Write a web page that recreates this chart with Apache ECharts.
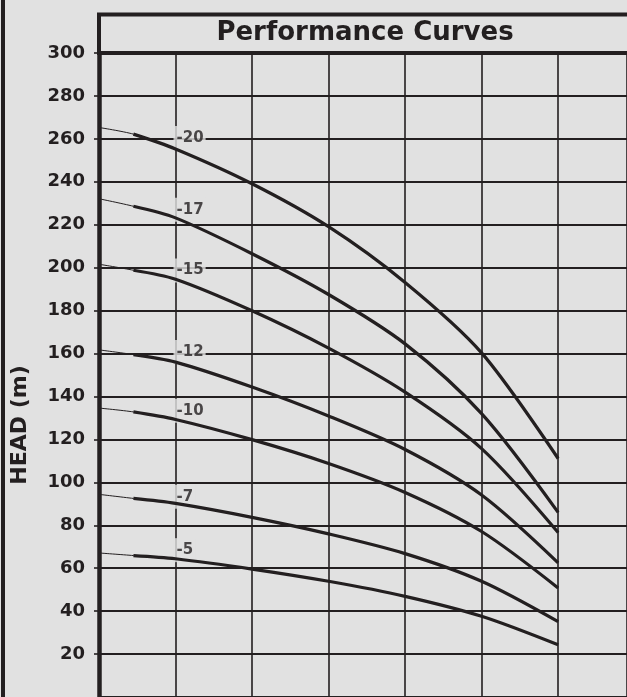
<!DOCTYPE html>
<html>
<head>
<meta charset="utf-8">
<script src="https://cdn.jsdelivr.net/npm/echarts@6/dist/echarts.min.js"></script>
<style>
html, body { margin: 0; padding: 0; background: #e1e1e1; }
#main { width: 627px; height: 697px; }
</style>
</head>
<body>
<div id="main"></div>
<script>
// flow positions (grid columns) where the curves were read
var flow = [0, 0.45, 1, 2, 3, 4, 5, 6];
var curveNames = ['-20', '-17', '-15', '-12', '-10', '-7', '-5'];
// head (m) of each model at the flow positions above
var head20 = [265.3, 262.2, 255.3, 239.1, 219.1, 193.1, 160.3, 111.1];
var head17 = [232.1, 228.6, 223.2, 206.5, 187.5, 164.5, 132.0, 86.0];
var head15 = [201.6, 198.8, 194.6, 179.9, 162.5, 142.0, 115.7, 76.6];
var head12 = [161.7, 159.5, 156.0, 144.4, 130.9, 115.3, 94.1, 62.5];
var head10 = [134.6, 132.8, 129.3, 119.9, 108.8, 95.3, 77.1, 50.8];
var head7 = [94.4, 92.5, 90.2, 83.7, 76.0, 66.8, 53.9, 35.1];
var head5 = [67.1, 65.9, 64.4, 59.6, 53.9, 46.9, 37.6, 24.3];
// where each model name is written
var labelFlow = 1;
var labelHead = [260.4, 227.0, 198.7, 160.7, 133.4, 93.3, 68.4];
var headMin = 0, headMax = 300, headStep = 20;
// the picture is cut at the right, part way into the last column
var flowMin = 0, flowMax = 6.9, flowStep = 1;

var ink = '#231f20';
var allHeads = [head20, head17, head15, head12, head10, head7, head5];

function pairs(values, from) {
    var out = [];
    for (var i = from; i < values.length; i++) {
        out.push([flow[i], values[i]]);
    }
    return out;
}

var series = [];
for (var k = 0; k < allHeads.length; k++) {
    // thin full curve
    series.push({
        name: curveNames[k] + ' thin',
        type: 'line',
        data: pairs(allHeads[k], 0),
        smooth: 0.3,
        showSymbol: false,
        silent: true,
        z: 3,
        lineStyle: { color: ink, width: 1 }
    });
    // thick part
    series.push({
        name: curveNames[k],
        type: 'line',
        data: pairs(allHeads[k], 1),
        smooth: 0.3,
        showSymbol: false,
        silent: true,
        z: 4,
        lineStyle: { color: ink, width: 3.2, cap: 'butt' }
    });
}

var labelData = [];
for (var j = 0; j < curveNames.length; j++) {
    labelData.push([labelFlow, labelHead[j], curveNames[j]]);
}
series.push({
    type: 'scatter',
    data: labelData,
    symbolSize: 0,
    silent: true,
    z: 2,
    label: {
        show: true,
        position: [-2, 0],
        align: 'left',
        verticalAlign: 'middle',
        formatter: function (p) { return p.value[2]; },
        color: ink,
        fontFamily: 'DejaVu Sans',
        fontWeight: 'bold',
        fontSize: 15,
        backgroundColor: '#e1e1e1',
        padding: [5, 2, 4, 3]
    }
});

var chart = echarts.init(document.getElementById('main'));
chart.setOption({
    backgroundColor: '#e1e1e1',
    animation: false,
    grid: { left: 99, top: 53, right: 0, height: 646.5 },
    xAxis: {
        type: 'value',
        min: flowMin,
        max: flowMax,
        interval: flowStep,
        axisLine: { show: false },
        axisTick: { show: false },
        axisLabel: { show: false },
        splitLine: { show: true, lineStyle: { color: ink, width: 1.6 } }
    },
    yAxis: {
        type: 'value',
        min: headMin,
        max: headMax,
        interval: headStep,
        axisLine: { show: true, lineStyle: { color: ink, width: 4.5 } },
        axisTick: { show: true, length: 5, lineStyle: { color: ink, width: 1.6 } },
        axisLabel: {
            showMinLabel: false,
            margin: 14,
            color: ink,
            fontFamily: 'DejaVu Sans',
            fontWeight: 'bold',
            fontSize: 18
        },
        splitLine: { show: true, lineStyle: { color: ink, width: 1.8 } }
    },
    graphic: [
        {
            type: 'rect',
            shape: { x: 1, y: 0, width: 4, height: 697 },
            style: { fill: ink },
            z: 10
        },
        {
            type: 'rect',
            shape: { x: 99, y: 14.5, width: 560, height: 38.5 },
            style: { fill: '#e1e1e1', stroke: ink, lineWidth: 4 },
            z: 10
        },
        {
            type: 'text',
            x: 365,
            y: 33,
            z: 11,
            style: {
                text: 'Performance Curves',
                fill: ink,
                font: 'bold 26px "DejaVu Sans"',
                textAlign: 'center',
                textVerticalAlign: 'middle'
            }
        },
        {
            type: 'text',
            x: 20,
            y: 425,
            rotation: Math.PI / 2,
            z: 11,
            style: {
                text: 'HEAD (m)',
                fill: ink,
                font: 'bold 22px "DejaVu Sans"',
                textAlign: 'center',
                textVerticalAlign: 'middle'
            }
        }
    ],
    series: series
});
</script>
</body>
</html>
